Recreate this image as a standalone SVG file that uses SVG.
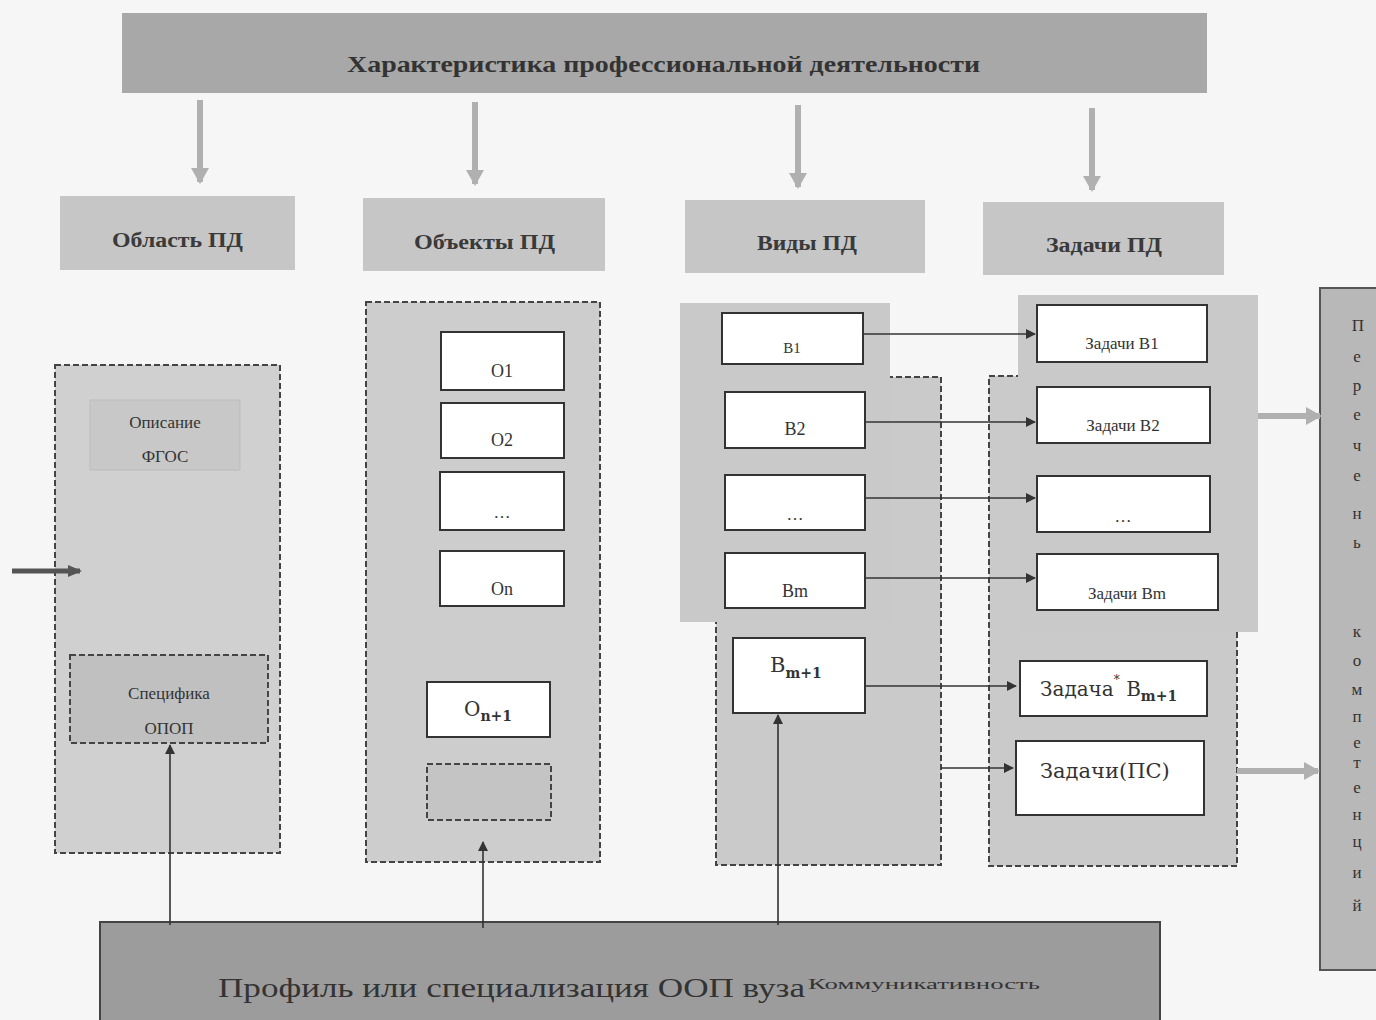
<svg xmlns="http://www.w3.org/2000/svg" width="1376" height="1020" viewBox="0 0 1376 1020">
<style>
.t{font-family:"Liberation Serif","DejaVu Serif",serif;fill:#333}
.hb{font-weight:bold;font-size:20px;fill:#3a3a3a}
.box{fill:#ffffff;stroke:#333;stroke-width:2}
.dash{stroke:#444;stroke-width:2;stroke-dasharray:6 3}
.m{font-family:"DejaVu Serif","Liberation Serif",serif;fill:#333}
.ln{stroke:#333;stroke-width:1.6;fill:none}
.gr{stroke:#b0b0b0;stroke-width:6;fill:none}
</style>
<defs>
<marker id="ah" markerWidth="10" markerHeight="10" refX="9" refY="5" orient="auto" markerUnits="userSpaceOnUse"><path d="M0,0 L10,5 L0,10 z" fill="#333"/></marker>
<marker id="ga" markerWidth="16" markerHeight="18" refX="14" refY="9" orient="auto" markerUnits="userSpaceOnUse"><path d="M0,0 L16,9 L0,18 z" fill="#b0b0b0"/></marker>
<marker id="da" markerWidth="14" markerHeight="14" refX="12" refY="7" orient="auto" markerUnits="userSpaceOnUse"><path d="M0,1 L14,7 L0,13 z" fill="#555"/></marker>
</defs>
<rect width="1376" height="1020" fill="#f6f6f6"/>

<g id="header">
<rect x="122" y="13" width="1085" height="80" fill="#a8a8a8"/>
<text class="t" x="347" y="72" font-size="23" textLength="633" lengthAdjust="spacingAndGlyphs" font-weight="bold" fill="#3a3a3a">Характеристика профессиональной деятельности</text>
</g>

<g id="col-headers">
<g id="oblast"><rect x="60" y="196" width="235" height="74" fill="#c6c6c6"/><text class="t hb" x="112" y="247" textLength="131" lengthAdjust="spacingAndGlyphs">Область ПД</text></g>
<g id="obekty"><rect x="363" y="198" width="242" height="73" fill="#c6c6c6"/><text class="t hb" x="414" y="249" textLength="141" lengthAdjust="spacingAndGlyphs">Объекты ПД</text></g>
<g id="vidy"><rect x="685" y="200" width="240" height="73" fill="#c6c6c6"/><text class="t hb" x="757" y="250" textLength="100" lengthAdjust="spacingAndGlyphs">Виды ПД</text></g>
<g id="zadachi"><rect x="983" y="202" width="241" height="73" fill="#c6c6c6"/><text class="t hb" x="1046" y="252" textLength="116" lengthAdjust="spacingAndGlyphs">Задачи ПД</text></g>
</g>

<g id="left-col">
<rect x="55" y="365" width="225" height="488" fill="#d0d0d0" class="dash"/>
<g id="opisanie"><rect x="90" y="400" width="150" height="70" fill="#c8c8c8" stroke="#bbb" stroke-width="1"/>
<text class="t" x="165" y="428" font-size="17" text-anchor="middle" fill="#666">Описание</text>
<text class="t" x="165" y="462" font-size="17" text-anchor="middle" fill="#666">ФГОС</text></g>
<g id="specifika"><rect x="70" y="655" width="198" height="88" fill="#c0c0c0" class="dash"/>
<text class="t" x="169" y="699" font-size="17" text-anchor="middle" fill="#666">Специфика</text>
<text class="t" x="169" y="734" font-size="17" text-anchor="middle" fill="#666">ОПОП</text></g>
</g>

<g id="obj-col">
<rect x="366" y="302" width="234" height="560" fill="#cdcdcd" class="dash"/>
<g id="o1"><rect class="box" x="441" y="332" width="123" height="58"/><text class="t" x="502" y="377" font-size="18" text-anchor="middle">O1</text></g>
<g id="o2"><rect class="box" x="441" y="403" width="123" height="55"/><text class="t" x="502" y="446" font-size="18" text-anchor="middle">O2</text></g>
<g id="o-dots"><rect class="box" x="440" y="472" width="124" height="58"/><text class="t" x="502" y="518" font-size="17" text-anchor="middle" fill="#888">…</text></g>
<g id="on"><rect class="box" x="440" y="551" width="124" height="55"/><text class="t" x="502" y="595" font-size="18" text-anchor="middle">On</text></g>
<g id="on1"><rect class="box" x="427" y="682" width="123" height="55"/><text class="m" x="488" y="716" font-size="20" text-anchor="middle">O<tspan dy="5" font-size="14" font-weight="bold">n+1</tspan></text></g>
<g id="o-empty"><rect x="427" y="764" width="124" height="56" fill="#c4c4c4" class="dash"/></g>
</g>

<g id="vidy-col">
<rect x="716" y="377" width="225" height="488" fill="#cacaca" class="dash"/>
<rect x="680" y="303" width="210" height="319" fill="#c9c9c9"/>
<g id="b1"><rect class="box" x="722" y="313" width="141" height="51"/><text class="t" x="792" y="353" font-size="15" text-anchor="middle">В1</text></g>
<g id="b2"><rect class="box" x="725" y="392" width="140" height="56"/><text class="t" x="795" y="435" font-size="18" text-anchor="middle">В2</text></g>
<g id="b-dots"><rect class="box" x="725" y="475" width="140" height="55"/><text class="t" x="795" y="520" font-size="17" text-anchor="middle" fill="#888">…</text></g>
<g id="bm"><rect class="box" x="725" y="553" width="140" height="55"/><text class="t" x="795" y="597" font-size="18" text-anchor="middle">Вm</text></g>
<g id="bm1"><rect class="box" x="733" y="638" width="132" height="75"/><text class="m" x="770" y="672" font-size="21">B<tspan dy="6" font-size="14" font-weight="bold">m+1</tspan></text></g>
</g>

<g id="zad-col">
<rect x="989" y="376" width="248" height="490" fill="#cacaca" class="dash"/>
<rect x="1018" y="295" width="240" height="337" fill="#c9c9c9"/>
<g id="z1"><rect class="box" x="1037" y="305" width="170" height="57"/><text class="t" x="1122" y="349" font-size="17" text-anchor="middle">Задачи В1</text></g>
<g id="z2"><rect class="box" x="1037" y="387" width="173" height="56"/><text class="t" x="1123" y="431" font-size="17" text-anchor="middle">Задачи В2</text></g>
<g id="z-dots"><rect class="box" x="1037" y="476" width="173" height="56"/><text class="t" x="1123" y="522" font-size="17" text-anchor="middle" fill="#888">…</text></g>
<g id="zm"><rect class="box" x="1037" y="554" width="181" height="56"/><text class="t" x="1127" y="599" font-size="17" text-anchor="middle">Задачи Вm</text></g>
<g id="zm1"><rect class="box" x="1020" y="661" width="187" height="55"/><text class="m" x="1040" y="696" font-size="20">Задача<tspan dy="-12" font-size="12">*</tspan><tspan dy="12"> B</tspan><tspan dy="5" font-size="14" font-weight="bold">m+1</tspan></text></g>
<g id="zps"><rect class="box" x="1016" y="741" width="188" height="74"/><text class="m" x="1040" y="778" font-size="21">Задачи(ПС)</text></g>
</g>

<g id="competencies">
<rect x="1320" y="288" width="60" height="682" fill="#b8b8b8" stroke="#555" stroke-width="2"/>
<g class="t" font-size="17" text-anchor="middle" fill="#444">
<text x="1358" y="331">П</text><text x="1357" y="362">е</text><text x="1357" y="391">р</text><text x="1357" y="420">е</text><text x="1357" y="451">ч</text><text x="1357" y="481">е</text><text x="1357" y="519">н</text><text x="1357" y="548">ь</text>
<text x="1357" y="637">к</text><text x="1357" y="666">о</text><text x="1357" y="695">м</text><text x="1357" y="722">п</text><text x="1357" y="748">е</text><text x="1357" y="768">т</text><text x="1357" y="793">е</text><text x="1357" y="820">н</text><text x="1357" y="847">ц</text><text x="1357" y="878">и</text><text x="1357" y="911">й</text>
</g>
</g>

<g id="profile">
<rect x="100" y="922" width="1060" height="100" fill="#9c9c9c" stroke="#444" stroke-width="2"/>
<text class="t" x="218" y="997" font-size="28" fill="#555" textLength="587" lengthAdjust="spacingAndGlyphs">Профиль  или специализация ООП вуза</text>
<text class="t" x="808" y="989" font-size="15" fill="#555" textLength="232" lengthAdjust="spacingAndGlyphs">Коммуникативность</text>
</g>

<g id="connectors">
<line class="gr" x1="200" y1="100" x2="200" y2="182" marker-end="url(#ga)"/>
<line class="gr" x1="475" y1="102" x2="475" y2="184" marker-end="url(#ga)"/>
<line class="gr" x1="798" y1="105" x2="798" y2="187" marker-end="url(#ga)"/>
<line class="gr" x1="1092" y1="108" x2="1092" y2="190" marker-end="url(#ga)"/>
<line x1="12" y1="571" x2="80" y2="571" stroke="#555" stroke-width="5" marker-end="url(#da)"/>
<line class="ln" x1="863" y1="334" x2="1035" y2="334" marker-end="url(#ah)"/>
<line class="ln" x1="865" y1="422" x2="1035" y2="422" marker-end="url(#ah)"/>
<line class="ln" x1="865" y1="498" x2="1035" y2="498" marker-end="url(#ah)"/>
<line class="ln" x1="865" y1="578" x2="1035" y2="578" marker-end="url(#ah)"/>
<line class="ln" x1="865" y1="686" x2="1016" y2="686" marker-end="url(#ah)"/>
<line class="ln" x1="941" y1="768" x2="1013" y2="768" marker-end="url(#ah)"/>
<line class="gr" x1="1258" y1="416" x2="1320" y2="416" marker-end="url(#ga)"/>
<line class="gr" x1="1237" y1="771" x2="1318" y2="771" marker-end="url(#ga)"/>
<line class="ln" x1="170" y1="925" x2="170" y2="745" marker-end="url(#ah)"/>
<line class="ln" x1="483" y1="928" x2="483" y2="842" marker-end="url(#ah)"/>
<line class="ln" x1="778" y1="925" x2="778" y2="715" marker-end="url(#ah)"/>
</g>
</svg>
